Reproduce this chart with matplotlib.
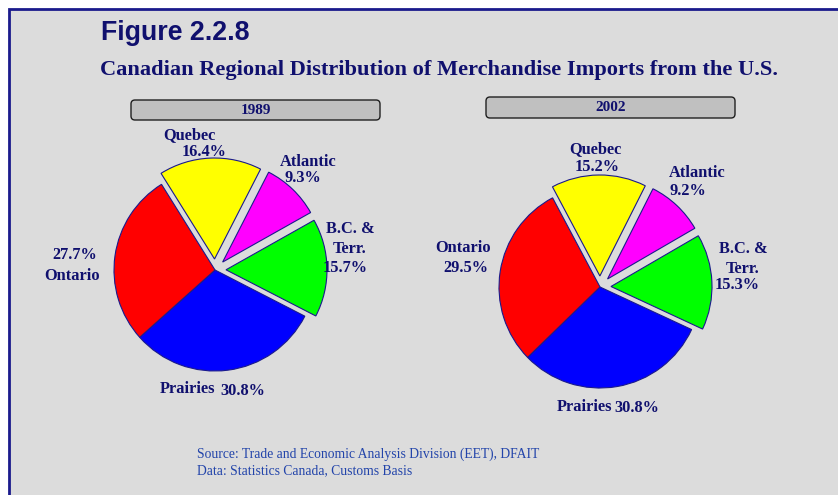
import matplotlib.pyplot as plt
from matplotlib.patches import Rectangle, FancyBboxPatch

# data
regions = ['Prairies', 'B.C. &\nTerr.', 'Atlantic', 'Quebec', 'Ontario']
share_1989 = [30.8, 15.7, 9.3, 16.4, 27.7]
share_2002 = [30.8, 15.3, 9.2, 15.2, 29.5]
years = ['1989', '2002']
colors = ['#0000ff', '#00ff00', '#ff00ff', '#ffff00', '#ff0000']
explode = [0, 11, 11, 11, 0]   # pie explode is in data units here (pixels)

W, H = 838, 495
navy = '#10106e'
serif = 'Liberation Serif'

fig = plt.figure(figsize=(W / 100, H / 100), dpi=100)
fig.patch.set_facecolor('white')
ax = fig.add_axes([0, 0, 1, 1])
ax.set_axis_off()


def py(y):
    # pixel row (from top) -> data y
    return H - y


# panel background with navy border on top/left
ax.add_patch(Rectangle((9, -20), W + 20, py(9) + 20, facecolor='#dcdcdc',
                       edgecolor='#1a1a8c', lw=2, zorder=0))

ax.text(101, py(33), 'Figure 2.2.8', fontsize=19.3, fontweight='bold',
        family='Liberation Sans', color=navy, va='center', ha='left')
ax.text(100, py(70), 'Canadian Regional Distribution of Merchandise Imports from the U.S.',
        fontsize=16.1, fontweight='bold', family=serif, color=navy, va='center', ha='left')

# year boxes
for (x0, y0, x1, y1), yr in zip([(131, 100, 380, 120), (486, 97, 735, 118)], years):
    ax.add_patch(FancyBboxPatch((x0, py(y1)), x1 - x0, y1 - y0,
                                boxstyle='round,pad=0,rounding_size=4',
                                facecolor='#c0c0c0', edgecolor='#202020', lw=1, zorder=2))
    ax.text((x0 + x1) / 2, py((y0 + y1) / 2), yr, fontsize=11, fontweight='bold',
            family=serif, color=navy, ha='center', va='center', zorder=3)

# pies
pies = [(share_1989, (215, 270), 221.8), (share_2002, (600, 287), 224.2)]
for vals, (cx, cy), start in pies:
    ax.pie(vals, colors=colors, explode=explode, startangle=start, radius=101,
           center=(cx, py(cy)), counterclock=True,
           wedgeprops=dict(edgecolor='#1a1a8c', linewidth=0.8))

lab = dict(fontsize=11.8, fontweight='bold', family=serif, color=navy,
           ha='center', va='center')


def pct(v):
    return f'{v}%'


# 1989 labels
ax.text(189, py(135), regions[3], **lab)
ax.text(204, py(152), pct(share_1989[3]), **lab)
ax.text(308, py(162), regions[2], **lab)
ax.text(303, py(178), pct(share_1989[2]), **lab)
ax.text(350, py(239), regions[1], linespacing=1.4, **lab)
ax.text(345, py(268), pct(share_1989[1]), **lab)
ax.text(75, py(255), pct(share_1989[4]), **lab)
ax.text(72, py(276), regions[4], **lab)
ax.text(187, py(389), regions[0], **lab)
ax.text(243, py(391), pct(share_1989[0]), **lab)

# 2002 labels
ax.text(595, py(149), regions[3], **lab)
ax.text(597, py(167), pct(share_2002[3]), **lab)
ax.text(697, py(173), regions[2], **lab)
ax.text(688, py(191), pct(share_2002[2]), **lab)
ax.text(743, py(259), regions[1], linespacing=1.4, **lab)
ax.text(737, py(285), pct(share_2002[1]), **lab)
ax.text(463, py(248), regions[4], **lab)
ax.text(466, py(268), pct(share_2002[4]), **lab)
ax.text(584, py(407), regions[0], **lab)
ax.text(637, py(408), pct(share_2002[0]), **lab)

src = dict(fontsize=9.8, family=serif, color='#2244aa', ha='left', va='center')
ax.text(197, py(454), 'Source: Trade and Economic Analysis Division (EET), DFAIT', **src)
ax.text(197, py(471), 'Data: Statistics Canada, Customs Basis', **src)

ax.set_xlim(0, W)
ax.set_ylim(0, H)
ax.set_aspect('auto')

fig.savefig('out.png', dpi=100, facecolor=fig.get_facecolor())
